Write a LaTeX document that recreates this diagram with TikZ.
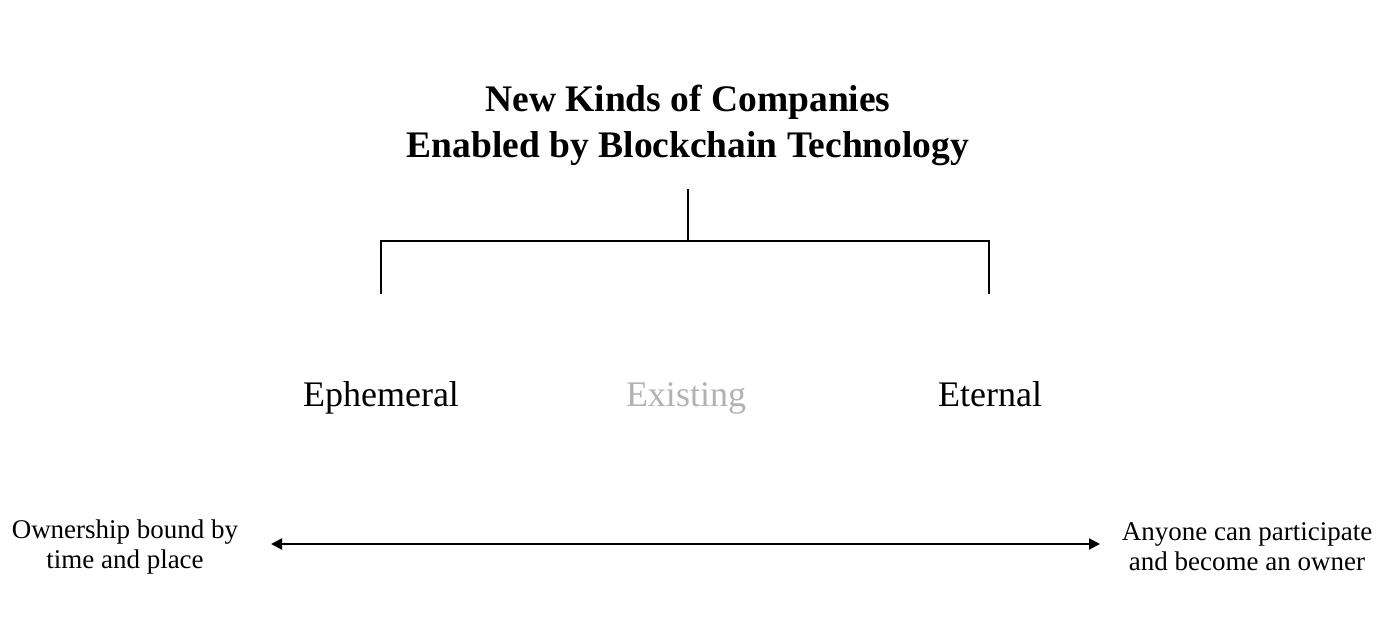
\documentclass[tikz,border=0pt]{standalone}
\usepackage{fontspec}
\setmainfont{Liberation Serif}
\usetikzlibrary{positioning,arrows.meta,calc}

\begin{document}
\begin{tikzpicture}[x=1pt,y=1pt,
  titlelbl/.style={font=\fontsize{37.5}{46}\selectfont\bfseries, align=center, inner sep=0pt},
  kindlbl/.style={font=\fontsize{36}{40}\selectfont, inner sep=0pt, anchor=base},
  endlbl/.style={font=\fontsize{27}{30}\selectfont, align=center, inner sep=0pt},
  treeline/.style={line width=1.5pt},
  spanarrow/.style={line width=2pt, {Triangle[length=11pt,width=11pt]}-{Triangle[length=11pt,width=11pt]}}
]
\useasboundingbox (0,0) rectangle (1390,-637);

% title
\node[titlelbl] (T) at (688,-125) {New Kinds of Companies\\Enabled by Blockchain Technology};

% bracket
\coordinate (top) at (688,-189);
\coordinate (mid) at (688,-241);
\coordinate (L) at (381,-241);
\coordinate (R) at (989,-241);
\coordinate (Ld) at (381,-294);
\coordinate (Rd) at (989,-294);
\draw[treeline] (top) -- (mid);
\draw[treeline] (Ld) -- (L) -- (R) -- (Rd);

% three kinds
\node[kindlbl] (E1) at (381,-406) {Ephemeral};
\node[kindlbl, text=black!30] (E2) at (686,-406) {Existing};
\node[kindlbl] (E3) at (990,-406) {Eternal};

% span
\node[endlbl] (O1) at (125,-547) {Ownership bound by\\time and place};
\node[endlbl] (O2) at (1247,-547) {Anyone can participate\\and become an owner};
\coordinate (A1) at (271,-544);
\coordinate (A2) at (1100,-544);
\draw[spanarrow] (A1) -- (A2);

\end{tikzpicture}
\end{document}
